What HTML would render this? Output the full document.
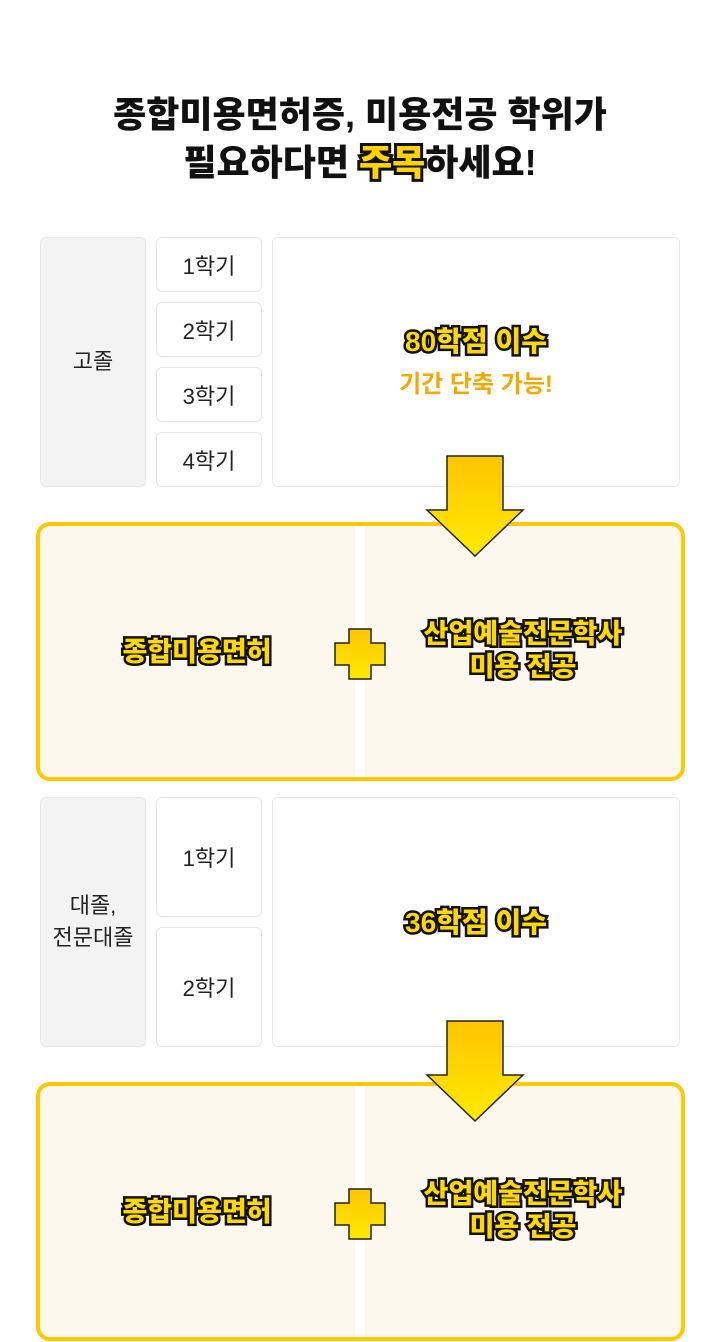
<!DOCTYPE html>
<html><head><meta charset="utf-8"><style>
body{margin:0;width:720px;height:1342px;background:#fff;position:relative;overflow:hidden;font-family:"Liberation Sans","Noto Sans CJK KR",sans-serif}
.a{position:absolute;box-sizing:border-box}
.g{background:#f3f3f3;border:1px solid #e6e6e6;border-radius:6px;display:flex;align-items:center;justify-content:center;font-size:22px;color:#222;text-align:center;line-height:32px}
.w{background:#fff;border:1px solid #e6e6e6;border-radius:6px;display:flex;align-items:center;justify-content:center;font-size:22px;color:#222;flex-direction:column}
.y{border:4px solid #ffc800;border-radius:14px;background:#fcf8ee}
.yt{font-weight:900;font-size:27px;color:#ffd800;-webkit-text-stroke:5px #111;paint-order:stroke fill;text-shadow:2px 2px 0 #111;text-align:center;line-height:33px}
h1{position:absolute;top:91px;left:0;width:720px;margin:0;text-align:center;font-size:36px;font-weight:900;line-height:48px;color:#111}
</style></head><body>
<h1>종합미용면허증, 미용전공 학위가<br>필요하다면 <span style="color:#ffd400;-webkit-text-stroke:6px #111;paint-order:stroke fill;text-shadow:2px 2px 0 #111">주목</span>하세요!</h1>

<div class="a g" style="left:40px;top:237px;width:106px;height:250px">고졸</div>
<div class="a w" style="left:156px;top:237px;width:106px;height:55px">1학기</div>
<div class="a w" style="left:156px;top:302px;width:106px;height:55px">2학기</div>
<div class="a w" style="left:156px;top:367px;width:106px;height:55px">3학기</div>
<div class="a w" style="left:156px;top:432px;width:106px;height:55px">4학기</div>
<div class="a w" style="left:272px;top:237px;width:408px;height:250px"><div class="yt" style="font-size:28px">80학점 이수</div><div style="color:#f5a800;font-weight:bold;font-size:24px;margin-top:6px">기간 단축 가능!</div></div>

<div class="a y" style="left:36px;top:522px;width:649px;height:259px"></div>
<div class="a" style="left:355px;top:526px;width:10px;height:251px;background:#fff"></div>
<div class="a yt" style="left:77px;top:636px;width:240px">종합미용면허</div>
<div class="a yt" style="left:393px;top:618px;width:260px">산업예술전문학사<br>미용 전공</div>

<div class="a g" style="left:40px;top:797px;width:106px;height:250px">대졸,<br>전문대졸</div>
<div class="a w" style="left:156px;top:797px;width:106px;height:120px">1학기</div>
<div class="a w" style="left:156px;top:927px;width:106px;height:120px">2학기</div>
<div class="a w" style="left:272px;top:797px;width:408px;height:250px"><div class="yt" style="font-size:28px">36학점 이수</div></div>

<div class="a y" style="left:36px;top:1082px;width:649px;height:259px"></div>
<div class="a" style="left:355px;top:1086px;width:10px;height:251px;background:#fff"></div>
<div class="a yt" style="left:77px;top:1196px;width:240px">종합미용면허</div>
<div class="a yt" style="left:393px;top:1178px;width:260px">산업예술전문학사<br>미용 전공</div>

<svg class="a" style="left:0;top:0" width="720" height="1342">
<defs><linearGradient id="ag" x1="0" y1="0" x2="0" y2="1"><stop offset="0" stop-color="#ffc400"/><stop offset="1" stop-color="#ffea00"/></linearGradient></defs>
<g fill="url(#ag)" stroke="#222" stroke-width="1.5">
<path d="M447 456H503V510H523L475 556L427 510H447Z"/>
<path d="M447 1021H503V1075H523L475 1121L427 1075H447Z"/>
<path d="M349 629H371V643H385V665H371V679H349V665H335V643H349Z"/>
<path d="M349 1189H371V1203H385V1225H371V1239H349V1225H335V1203H349Z"/>
</g></svg>
</body></html>
